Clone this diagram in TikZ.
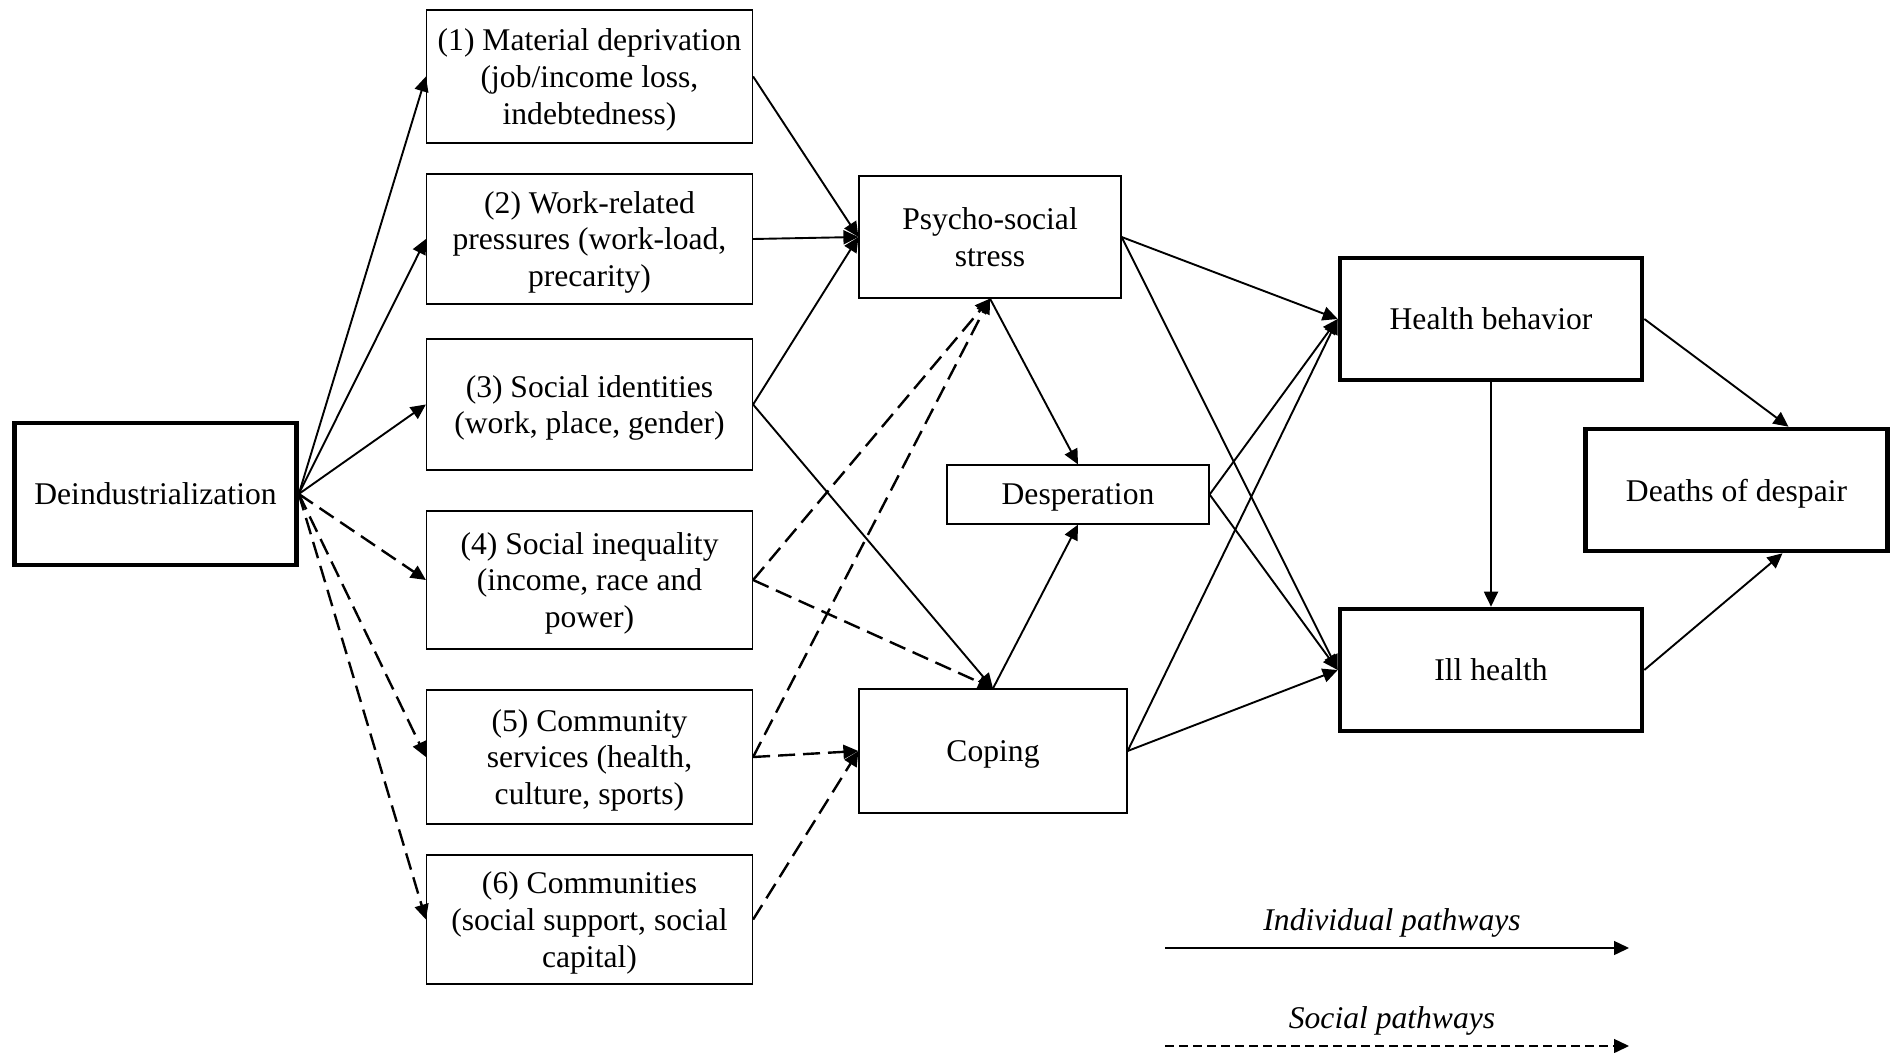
\documentclass[tikz,border=0pt]{standalone}
\usepackage{fontspec}
\setmainfont{Liberation Serif}
\usetikzlibrary{arrows.meta,calc}
\begin{document}
\begin{tikzpicture}[x=0.5pt,y=-0.5pt,
  every node/.style={font=\fontsize{15.8}{18.3}\selectfont, align=center, inner sep=0pt, text depth=0pt},
  thinbox/.style={draw, line width=0.6pt, rectangle},
  thickbox/.style={draw, line width=2.3pt, rectangle},
  arr/.style={-{Triangle[length=7.5pt,width=7pt]}, line width=0.95pt},
  darr/.style={arr, line width=1.2pt, dash pattern=on 8.5pt off 4pt}
]
\useasboundingbox (0,0) rectangle (1898,1053);

\node[thickbox, minimum width=141pt, minimum height=71pt] (D) at (155.5,494) {Deindustrialization};

\node[thinbox, minimum width=163pt, minimum height=66.5pt] (b1) at (589.5,76.5) {(1) Material deprivation\\(job/income loss,\\indebtedness)};
\node[thinbox, minimum width=163pt, minimum height=65pt] (b2) at (589.5,239) {(2) Work-related\\pressures (work-load,\\precarity)};
\node[thinbox, minimum width=163pt, minimum height=65.5pt] (b3) at (589.5,404.5) {(3) Social identities\\(work, place, gender)};
\node[thinbox, minimum width=163pt, minimum height=69pt] (b4) at (589.5,580) {(4) Social inequality\\(income, race and\\power)};
\node[thinbox, minimum width=163pt, minimum height=67pt] (b5) at (589.5,757) {(5) Community\\services (health,\\culture, sports)};
\node[thinbox, minimum width=163pt, minimum height=64.5pt] (b6) at (589.5,919.5) {(6) Communities\\(social support, social\\capital)};

\node[thinbox, minimum width=131pt, minimum height=61pt] (P) at (990,237) {Psycho-social\\stress};
\node[thinbox, minimum width=131pt, minimum height=29.5pt] (Dp) at (1078,494.5) {Desperation};
\node[thinbox, minimum width=134pt, minimum height=62pt] (C) at (993,751) {Coping};

\node[thickbox, minimum width=151pt, minimum height=61pt] (HB) at (1491,319) {Health behavior};
\node[thickbox, minimum width=151pt, minimum height=61pt] (IH) at (1491,670) {Ill health};
\node[thickbox, minimum width=151pt, minimum height=61pt] (DD) at (1736.5,490) {Deaths of despair};

% from Deindustrialization
\draw[arr] (D.east) -- (b1.west);
\draw[arr] (D.east) -- (b2.west);
\draw[arr] (D.east) -- (b3.west);
\draw[darr] (D.east) -- (b4.west);
\draw[darr] (D.east) -- (b5.west);
\draw[darr] (D.east) -- (b6.west);

% to psycho-social stress and coping
\draw[arr] (b1.east) -- (P.west);
\draw[arr] (b2.east) -- (P.west);
\draw[arr] (b3.east) -- (P.west);
\draw[arr] (b3.east) -- (C.north);
\draw[darr] (b4.east) -- (P.south);
\draw[darr] (b4.east) -- (C.north);
\draw[darr] (b5.east) -- (P.south);
\draw[darr] (b5.east) -- (C.west);
\draw[darr] (b6.east) -- (C.west);

% desperation
\draw[arr] (P.south) -- (Dp.north);
\draw[arr] (C.north) -- (Dp.south);

% to health outcomes
\draw[arr] (P.east) -- (HB.west);
\draw[arr] (P.east) -- (IH.west);
\draw[arr] (Dp.east) -- (HB.west);
\draw[arr] (Dp.east) -- (IH.west);
\draw[arr] (C.east) -- (HB.west);
\draw[arr] (C.east) -- (IH.west);
\draw[arr] (HB.south) -- (IH.north);
\draw[arr] (HB.east) -- ([xshift=26pt]DD.north);
\draw[arr] (IH.east) -- ([xshift=23pt]DD.south);

% legend
\node (l1) at (1392,920) {\itshape Individual pathways};
\node (l2) at (1392,1018) {\itshape Social pathways};
\coordinate (l1s) at (1165,948);
\coordinate (l1e) at (1629,948);
\coordinate (l2s) at (1165,1046);
\coordinate (l2e) at (1629,1046);
\draw[arr, line width=0.7pt] (l1s) -- (l1e);
\draw[arr, line width=0.7pt, dash pattern=on 4.5pt off 2.5pt] (l2s) -- (l2e);
\end{tikzpicture}
\end{document}
